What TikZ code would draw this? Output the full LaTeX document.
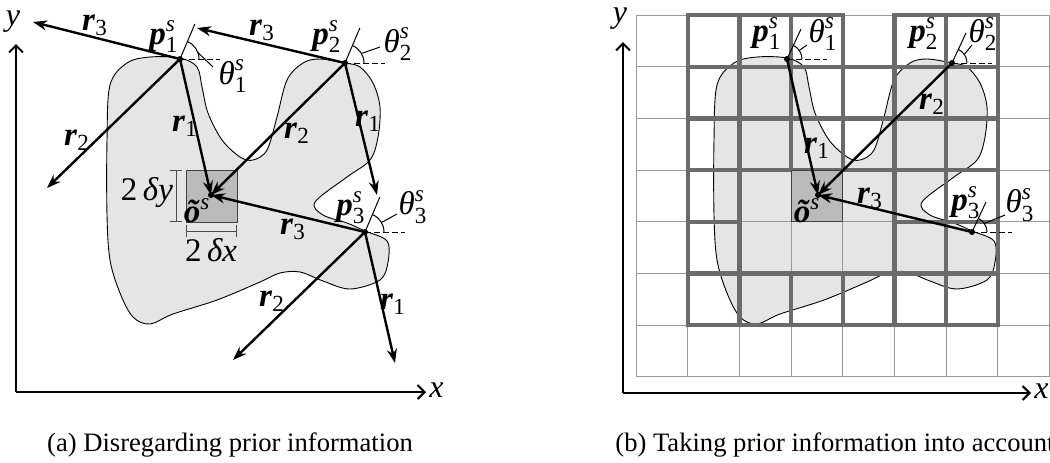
\documentclass[tikz,border=0pt]{standalone}
\usepackage{amsmath}
\usepackage{fontspec}
\setmainfont{Liberation Serif}
\usepackage{tikz}
\usetikzlibrary{arrows.meta, positioning, calc}

\newcommand{\pvec}[1]{$\textbf{\textit{p}}^{\textit{s}}_{\textup{#1}}$}
\newcommand{\rvec}[1]{$\textbf{\textit{r}}_{\textup{#1}}$}
\newcommand{\thvec}[1]{$\textit{θ}^{\textit{s}}_{\textup{#1}}$}
\newcommand{\ovec}{$\textbf{\textit{õ}}^{\textit{s}}$}

\tikzset{
  vecarrow/.style={line width=1.2pt, -{Stealth[length=7pt, width=5pt]}},
  axisline/.style={line width=1pt, -{Straight Barb[length=3.5pt, width=7pt]}},
  blobline/.style={fill=black!10, draw=black, line width=0.45pt},
  thincell/.style={draw=black!40, line width=0.5pt},
  thickcell/.style={draw=black!58, line width=2.1pt},
  obox/.style={fill=black!27, draw=black!75, line width=0.5pt},
  dimbar/.style={draw=black!70, line width=0.4pt, {Bar[width=6pt]}-{Bar[width=6pt]}},
  tickline/.style={line width=0.5pt},
  refline/.style={dash pattern=on 3pt off 1.5pt, line width=0.5pt},
  leader/.style={line width=0.5pt},
  lbl/.style={font=\fontsize{16.5}{18}\selectfont, inner sep=0pt},
  dimlbl/.style={font=\fontsize{16.5}{18}\selectfont, inner sep=0pt},
  axlbl/.style={font=\fontsize{16}{18}\selectfont\itshape, inner sep=0pt},
  captext/.style={font=\fontsize{13.3}{15}\selectfont, inner sep=0pt},
  blobshape/.pic={
    \draw[blobline] plot[smooth cycle, tension=0.55] coordinates {
      (107,140) (110,85) (127,63) (150,57) (180,58) (197,67) (202,87) (208,113)
      (222,140) (240,157) (253,160) (267,150) (277,117) (287,80) (303,63) (320,59)
      (345,63) (360,67) (373,83) (380,107) (378,137) (370,160) (347,177) (315,202)
      (323,215) (347,223) (365,231) (387,241) (388,262) (380,280) (350,289) (323,281)
      (300,272) (280,273) (260,282) (217,300) (173,314) (150,324) (133,317) (120,293)
      (110,260) (107,215)};
  },
}

\begin{document}
\begin{tikzpicture}[x=0.5pt, y=-0.5pt, >=Stealth]
    \useasboundingbox (0,0) rectangle (1050,462);

    % (a)
    \coordinate (Oa) at (16,392);
    \coordinate (Ya) at (16,44);
    \coordinate (Xa) at (426,392);
    \draw[axisline] (Oa) -- (Ya);
    \draw[axisline] (Oa) -- (Xa);
    \node[axlbl] (ylaba) at (13,22) {y};
    \node[axlbl, anchor=west] (xlaba) at (429,390) {x};

    \pic at (0,0) {blobshape};
    \draw[obox] (186,170) rectangle (237,222);
    \draw[dimbar] (176,170) -- (176,222);
    \draw[dimbar] (186,231) -- (237,231);
    \node[dimlbl] (dya) at (147,193) {2\,\textit{δy}};
    \node[dimlbl] (dxa) at (211,250) {2\,\textit{δx}};

    \coordinate (pa1) at (180,59);
    \coordinate (pa2) at (345,63);
    \coordinate (pa3) at (365,232);
    \coordinate (oa) at (211,195);
    \coordinate (ea13) at (33,22);
    \coordinate (ea12) at (47,188);
    \coordinate (ea23) at (197,28);
    \coordinate (ea21) at (377,195);
    \coordinate (ea32) at (233,360);
    \coordinate (ea31) at (395,363);

    \draw[vecarrow] (pa1) -- (ea13);
    \draw[vecarrow] (pa1) -- (ea12);
    \draw[vecarrow] (pa1) -- (oa);
    \draw[vecarrow] (pa2) -- (ea23);
    \draw[vecarrow] (pa2) -- (oa);
    \draw[vecarrow] (pa2) -- (ea21);
    \draw[vecarrow] (pa3) -- (oa);
    \draw[vecarrow] (pa3) -- (ea32);
    \draw[vecarrow] (pa3) -- (ea31);

    \foreach \p in {pa1,pa2,pa3,oa} \fill (\p) circle (3);
    \foreach \p in {pa1,pa2,pa3} {
        \draw[tickline] (\p) -- ($(\p)+(-67:38)$);
        \draw[refline] (\p) -- ++(40,0);
        \draw[tickline] ($(\p)+(19,0)$) arc[start angle=0, end angle=-67, radius=19];
    }
    \draw[leader] ($(pa1)+(-20:19)$) -- (213,67);
    \draw[leader] ($(pa2)+(-30:19)$) -- (380,47);
    \draw[leader] ($(pa3)+(-30:19)$) -- (397,214);

    \node[lbl] (pla1) at (164,37) {\pvec{1}};
    \node[lbl] (pla2) at (327,37) {\pvec{2}};
    \node[lbl] (pla3) at (351,208) {\pvec{3}};
    \node[lbl] (tha1) at (233,76) {\thvec{1}};
    \node[lbl] (tha2) at (398,44) {\thvec{2}};
    \node[lbl] (tha3) at (413,207) {\thvec{3}};
    \node[lbl] (ola) at (197,211) {\ovec};
    \node[lbl] (ra13) at (95,25) {\rvec{3}};
    \node[lbl] (ra12) at (77,140) {\rvec{2}};
    \node[lbl] (ra11) at (185,126) {\rvec{1}};
    \node[lbl] (ra23) at (262,30) {\rvec{3}};
    \node[lbl] (ra22) at (297,133) {\rvec{2}};
    \node[lbl] (ra21) at (368,121) {\rvec{1}};
    \node[lbl] (ra33) at (293,229) {\rvec{3}};
    \node[lbl] (ra32) at (272,301) {\rvec{2}};
    \node[lbl] (ra31) at (393,304) {\rvec{1}};

    \node[captext] (capa) at (230,445) {(a) Disregarding prior information};

    % (b)
    \coordinate (Ob) at (623,393);
    \coordinate (Yb) at (623,42);
    \coordinate (Xb) at (1031,393);
    \draw[axisline] (Ob) -- (Yb);
    \draw[axisline] (Ob) -- (Xb);
    \node[axlbl] (ylabb) at (620,19) {y};
    \node[axlbl, anchor=west] (xlabb) at (1034,391) {x};

    \begin{scope}[shift={(607,0)}]
        \def\cs{51.7}
        \pic at (0,0) {blobshape};
        \foreach \i in {0,...,8}
            \draw[thincell] ({29+\i*\cs},15) -- ({29+\i*\cs},377);
        \foreach \j in {0,...,7}
            \draw[thincell] (29,{15+\j*\cs}) -- (443,{15+\j*\cs});
        \foreach \c/\r in {1/0,2/0,3/0,5/0,6/0,
                           1/1,2/1,3/1,4/1,5/1,6/1,
                           1/2,2/2,3/2,4/2,5/2,6/2,
                           1/3,5/3,6/3, 1/4,5/4,6/4,
                           1/5,2/5,3/5,4/5,5/5,6/5}
            \draw[thickcell] ({29+\c*\cs},{15+\r*\cs}) rectangle ++(\cs,\cs);
        \draw[obox] ({29+3*\cs},{15+3*\cs}) rectangle ++(\cs,\cs);

        \coordinate (pb1) at (180,59);
        \coordinate (pb2) at (345,63);
        \coordinate (pb3) at (365,232);
        \coordinate (ob) at (211,195);
        \draw[vecarrow] (pb1) -- (ob);
        \draw[vecarrow] (pb2) -- (ob);
        \draw[vecarrow] (pb3) -- (ob);

        \foreach \p in {pb1,pb2,pb3,ob} \fill (\p) circle (3);
        \foreach \p in {pb1,pb2,pb3} {
            \draw[tickline] (\p) -- ($(\p)+(-65:33)$);
            \draw[refline] (\p) -- ++(40,0);
            \draw[tickline] ($(\p)+(15,0)$) arc[start angle=0, end angle=-65, radius=15];
        }
        \draw[leader] ($(pb1)+(-35:15)$) -- (200,45);
        \draw[leader] ($(pb2)+(-35:15)$) -- (365,45);
        \draw[leader] ($(pb3)+(-35:15)$) -- (398,215);

        \node[lbl] (plb1) at (160,34) {\pvec{1}};
        \node[lbl] (plb2) at (317,34) {\pvec{2}};
        \node[lbl] (plb3) at (359,203) {\pvec{3}};
        \node[lbl] (thb1) at (216,34) {\thvec{1}};
        \node[lbl] (thb2) at (376,34) {\thvec{2}};
        \node[lbl] (thb3) at (413,205) {\thvec{3}};
        \node[lbl] (olb) at (200,211) {\ovec};
        \node[lbl] (rb1) at (210,148) {\rvec{1}};
        \node[lbl] (rb2) at (325,104) {\rvec{2}};
        \node[lbl] (rb3) at (263,198) {\rvec{3}};
    \end{scope}

    \node[captext, anchor=west] (capb) at (615,445) {(b) Taking prior information into account};
\end{tikzpicture}
\end{document}
